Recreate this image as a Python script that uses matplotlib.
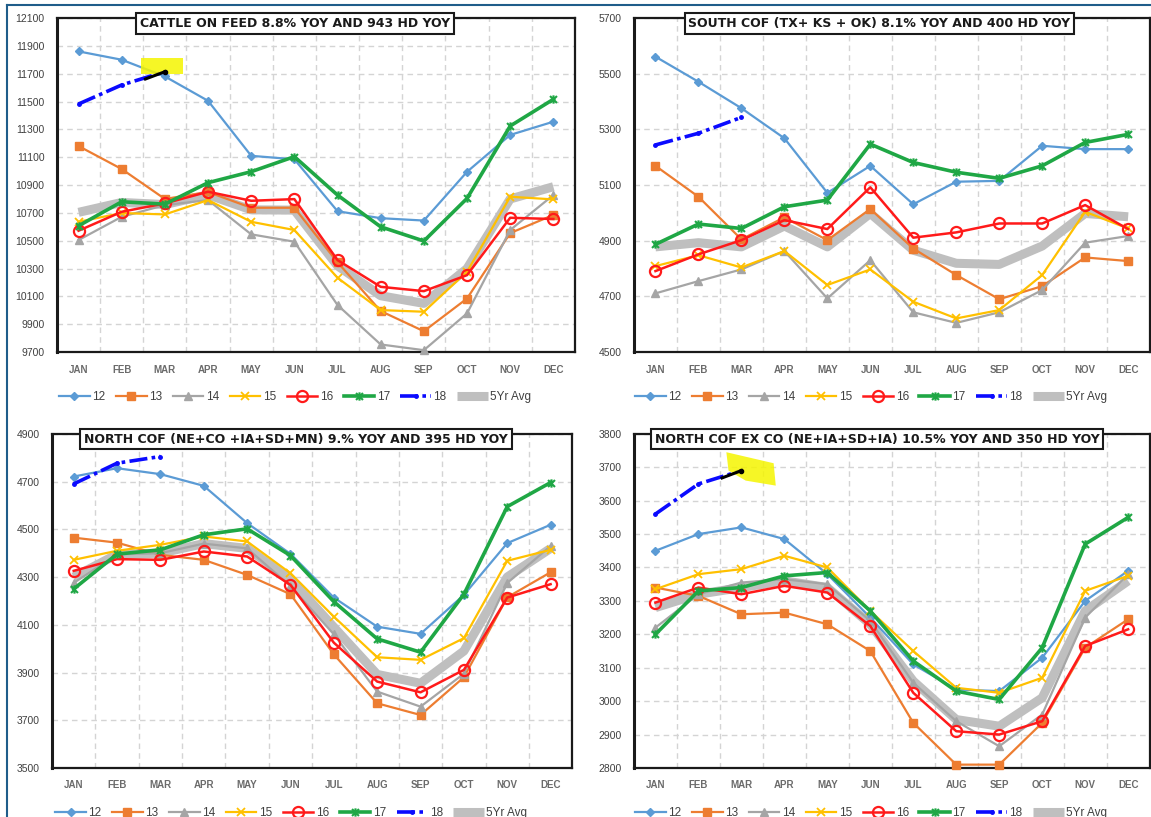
import numpy as np
import matplotlib
matplotlib.use("Agg")
import matplotlib.pyplot as plt
from matplotlib.path import Path
from matplotlib.patches import Polygon
from matplotlib.lines import Line2D

MONTHS = ["JAN", "FEB", "MAR", "APR", "MAY", "JUN", "JUL", "AUG", "SEP", "OCT", "NOV", "DEC"]
SERIES = ["12", "13", "14", "15", "16", "17", "18", "5Yr Avg"]

# --- total cattle on feed
cof_12 = [11860, 11800, 11680, 11505, 11110, 11085, 10712, 10662, 10645, 10995, 11260, 11355]
cof_13 = [11180, 11015, 10800, 10850, 10737, 10737, 10345, 9995, 9850, 10085, 10555, 10685]
cof_14 = [10505, 10672, 10756, 10792, 10546, 10493, 10038, 9755, 9714, 9978, 10577, 10828]
cof_15 = [10636, 10699, 10689, 10792, 10636, 10577, 10234, 10002, 9990, 10277, 10816, 10797]
cof_16 = [10572, 10708, 10768, 10852, 10787, 10799, 10361, 10169, 10138, 10253, 10665, 10656]
cof_17 = [10607, 10780, 10763, 10917, 10996, 11104, 10828, 10600, 10498, 10804, 11324, 11516]
cof_18 = [11482, 11619, 11714]
cof_avg = [10704, 10775, 10760, 10830, 10722, 10720, 10320, 10105, 10050, 10300, 10800, 10888]

# --- south COF (TX + KS + OK)
south_12 = [5561, 5471, 5376, 5268, 5072, 5169, 5031, 5112, 5115, 5241, 5229, 5229]
south_13 = [5169, 5058, 4905, 4984, 4902, 5014, 4872, 4777, 4690, 4737, 4840, 4827]
south_14 = [4711, 4755, 4797, 4863, 4693, 4830, 4643, 4605, 4643, 4723, 4893, 4917]
south_15 = [4809, 4848, 4804, 4863, 4741, 4797, 4681, 4621, 4651, 4777, 5004, 4944]
south_16 = [4791, 4851, 4902, 4974, 4942, 5092, 4911, 4930, 4962, 4962, 5028, 4942]
south_17 = [4887, 4960, 4944, 5022, 5046, 5247, 5181, 5146, 5124, 5169, 5253, 5282]
south_18 = [5244, 5286, 5343]
south_avg = [4878, 4893, 4878, 4953, 4878, 4998, 4866, 4819, 4815, 4881, 4998, 4986]

# --- north COF (NE+CO+IA+SD+MN)
north_12 = [4721, 4756, 4731, 4682, 4526, 4397, 4214, 4092, 4062, 4225, 4442, 4519]
north_13 = [4465, 4444, 4393, 4372, 4309, 4228, 3976, 3771, 3722, 3880, 4215, 4320]
north_14 = [4275, 4395, 4400, 4440, 4420, 4262, 4060, 3820, 3757, 3895, 4275, 4430]
north_15 = [4372, 4410, 4435, 4470, 4449, 4316, 4134, 3964, 3953, 4044, 4368, 4414]
north_16 = [4326, 4375, 4372, 4407, 4386, 4267, 4025, 3862, 3817, 3911, 4214, 4270]
north_17 = [4250, 4396, 4414, 4477, 4502, 4390, 4197, 4041, 3985, 4228, 4595, 4696]
north_18 = [4690, 4777, 4805]
north_avg = [4300, 4395, 4400, 4440, 4420, 4290, 4090, 3892, 3855, 3990, 4300, 4420]

# --- north COF ex CO
exco_12 = [3450, 3500, 3520, 3485, 3380, 3250, 3110, 3035, 3030, 3130, 3300, 3390]
exco_13 = [3340, 3315, 3260, 3265, 3230, 3150, 2935, 2810, 2810, 2935, 3160, 3245]
exco_14 = [3220, 3320, 3355, 3365, 3350, 3240, 3055, 2940, 2865, 2960, 3250, 3380]
exco_15 = [3335, 3380, 3395, 3435, 3400, 3270, 3150, 3040, 3025, 3070, 3330, 3375]
exco_16 = [3295, 3340, 3320, 3345, 3325, 3225, 3025, 2910, 2900, 2940, 3165, 3215]
exco_17 = [3200, 3330, 3340, 3375, 3385, 3270, 3120, 3030, 3005, 3160, 3470, 3550]
exco_18 = [3560, 3650, 3690]
exco_avg = [3280, 3320, 3340, 3360, 3340, 3230, 3060, 2945, 2925, 3010, 3270, 3360]

TITLES = ["CATTLE ON FEED 8.8% YOY AND 943 HD YOY",
          "SOUTH COF (TX+ KS + OK) 8.1% YOY AND 400 HD YOY",
          "NORTH COF (NE+CO +IA+SD+MN) 9.% YOY AND 395 HD YOY",
          "NORTH COF EX CO (NE+IA+SD+IA) 10.5% YOY AND 350 HD YOY"]
YLIMS = [(9700, 12100), (4500, 5700), (3500, 4900), (2800, 3800)]
YSTEPS = [200, 200, 200, 100]

# star marker like excel's (x with a vertical bar)
star = Path([(-1, -1), (1, 1), (-1, 1), (1, -1), (0, -1.2), (0, 1.2)],
            [Path.MOVETO, Path.LINETO, Path.MOVETO, Path.LINETO, Path.MOVETO, Path.LINETO])

STYLES = {
    "12": dict(color="#5b9bd5", lw=1.6, marker="D", ms=4.5),
    "13": dict(color="#ed7d31", lw=1.6, marker="s", ms=6),
    "14": dict(color="#a5a5a5", lw=1.6, marker="^", ms=5.5),
    "15": dict(color="#ffc000", lw=1.6, marker="x", ms=6, mew=1.3),
    "16": dict(color="#ff1a1a", lw=1.8, marker="o", ms=8, mfc="none", mew=1.6),
    "17": dict(color="#1fa745", lw=2.6, marker=star, ms=6, mew=1.5),
    "18": dict(color="#0a0aff", lw=2.6, marker="o", ms=2.5, ls=(0, (5, 1.2, 1, 1.2))),
    "5Yr Avg": dict(color="#bfbfbf", lw=6.5, marker=None, solid_capstyle="butt"),
}

panels = [
    [cof_12, cof_13, cof_14, cof_15, cof_16, cof_17, cof_18, cof_avg],
    [south_12, south_13, south_14, south_15, south_16, south_17, south_18, south_avg],
    [north_12, north_13, north_14, north_15, north_16, north_17, north_18, north_avg],
    [exco_12, exco_13, exco_14, exco_15, exco_16, exco_17, exco_18, exco_avg],
]

# axes boxes in figure fractions [left, bottom, width, height]
BOXES = [[0.0495, 0.569, 0.450, 0.409],
         [0.5508, 0.569, 0.448, 0.409],
         [0.0452, 0.060, 0.452, 0.409],
         [0.5508, 0.060, 0.448, 0.409]]
TITLE_X = [0.46, 0.476, 0.469, 0.472]

# highlighter marks (data coords) on panels 0 and 3
HILITE = {0: [(1.45, 11815), (2.42, 11815), (2.42, 11700), (1.45, 11700)],
          3: [(1.65, 3745), (2.75, 3712), (2.8, 3645), (2.1, 3660), (1.7, 3690)]}

plt.rcParams['font.family'] = ['Liberation Sans', 'DejaVu Sans']
fig = plt.figure(figsize=(11.51, 8.17), dpi=100, facecolor="white")

x = np.arange(12)
for i, data in enumerate(panels):
    ax = fig.add_axes(BOXES[i])
    lo, hi = YLIMS[i]
    ax.set_xlim(-0.5, 11.5)
    ax.set_ylim(lo, hi)
    ax.set_yticks(np.arange(lo, hi + 1, YSTEPS[i]))
    ax.set_xticks(x)
    ax.set_xticklabels(MONTHS, fontsize=7, color="#6b6b6b")
    ax.tick_params(axis="y", labelsize=7.5, colors="#404040", length=0, pad=9)
    ax.tick_params(axis="x", length=0, pad=9)
    for lbl in ax.get_xticklabels():
        lbl.set_fontweight("bold")
    # grid: horizontal at ticks, vertical between categories
    for yv in np.arange(lo, hi + 1, YSTEPS[i]):
        ax.axhline(yv, color="#d4d4d4", lw=1, ls=(0, (4, 3)), zorder=0)
    for xv in np.arange(0.5, 11, 1):
        ax.axvline(xv, color="#d4d4d4", lw=1, ls=(0, (4, 3)), zorder=0)
    for sp in ax.spines.values():
        sp.set_color("#1a1a1a")
        sp.set_linewidth(1.6)
    ax.spines["left"].set_linewidth(2.2)

    handles = []
    for name, vals in zip(SERIES, data):
        st = dict(STYLES[name])
        z = 1 if name == "5Yr Avg" else 3
        ln, = ax.plot(x[:len(vals)], vals, zorder=z, clip_on=False, **st)
        handles.append(ln)

    if i in HILITE:
        ax.add_patch(Polygon(HILITE[i], closed=True, color="#f5f500", alpha=0.85, zorder=4, lw=0))
        y18 = data[6]
        xs = [1.55, 2]
        ys = [y18[1] + 0.45 * (y18[2] - y18[1]), y18[2]]
        ax.plot(xs, ys, color="black", lw=2.2, zorder=5)
        ax.plot(2, y18[2], "o", color="black", ms=3, zorder=5)

    ax.text(TITLE_X[i], 0.984, TITLES[i], transform=ax.transAxes, ha="center", va="center",
            fontsize=9, fontweight="bold", family="DejaVu Sans", color="#1a1a1a", zorder=6,
            bbox=dict(boxstyle="square,pad=0.3", fc="white", ec="#1a1a1a", lw=1.5))

    ax.legend(handles, SERIES, loc="center", bbox_to_anchor=(0.46, -0.135), ncol=8,
              frameon=False, fontsize=8.5, handlelength=2.6, columnspacing=0.9,
              handletextpad=0.2, labelcolor="#404040")

# outer blue frame lines
fig.add_artist(Line2D([0.006, 1.0], [0.994, 0.994], transform=fig.transFigure, color="#1f5d8a", lw=1.5))
fig.add_artist(Line2D([0.006, 0.006], [0.0, 0.994], transform=fig.transFigure, color="#1f5d8a", lw=1.5))

fig.savefig("out.png", dpi=100, facecolor="white")
